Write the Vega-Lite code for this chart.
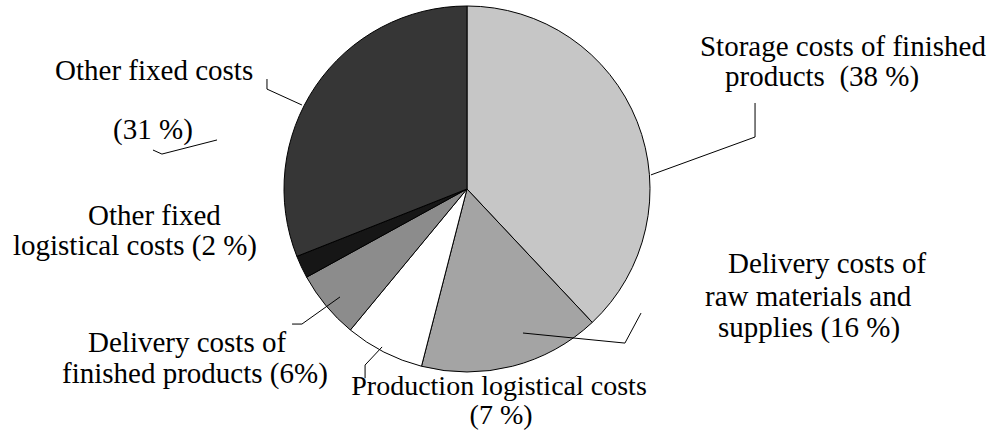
{
  "$schema": "https://vega.github.io/schema/vega-lite/v6.json",
  "width": 994,
  "height": 432,
  "autosize": "none",
  "padding": 0,
  "background": "white",
  "config": {"view": {"stroke": null}},
  "datasets": {
    "slices": [
      {"category": "Storage costs of finished products", "value": 38, "ord": 1},
      {"category": "Delivery costs of raw materials and supplies", "value": 16, "ord": 2},
      {"category": "Production logistical costs", "value": 7, "ord": 3},
      {"category": "Delivery costs of finished products", "value": 6, "ord": 4},
      {"category": "Other fixed logistical costs", "value": 2, "ord": 5},
      {"category": "Other fixed costs", "value": 31, "ord": 6}
    ],
    "labels": [
      {"text": "Storage costs of finished", "x": 127.3, "y": 72.7, "anchor": "left"},
      {"text": "products\u00a0 (38 %)", "x": 141.0, "y": 56.3, "anchor": "left"},
      {"text": "Delivery costs of", "x": 142.6, "y": -45.9, "anchor": "left"},
      {"text": "raw materials and", "x": 130.1, "y": -63.9, "anchor": "left"},
      {"text": "supplies (16 %)", "x": 137.2, "y": -80.9, "anchor": "left"},
      {"text": "Production logistical costs", "x": 17.5, "y": -112.6, "anchor": "center"},
      {"text": "(7 %)", "x": 18.6, "y": -128.4, "anchor": "center"},
      {"text": "Delivery costs of", "x": -207.1, "y": -89.1, "anchor": "left"},
      {"text": "finished products (6%)", "x": -221.3, "y": -106.0, "anchor": "left"},
      {"text": "Other fixed", "x": -207.1, "y": -19.7, "anchor": "left"},
      {"text": "logistical costs (2 %)", "x": -248.1, "y": -36.1, "anchor": "left"},
      {"text": "Other fixed costs", "x": -225.1, "y": 59.6, "anchor": "left"},
      {"text": "(31 %)", "x": -193.4, "y": 27.3, "anchor": "left"}
    ],
    "leaders": [
      {"id": "A", "i": 1, "x": 157.4, "y": 47.0},
      {"id": "A", "i": 2, "x": 157.4, "y": 28.4},
      {"id": "A", "i": 3, "x": 100.5, "y": 7.7},
      {"id": "B", "i": 1, "x": 30.6, "y": -78.7},
      {"id": "B", "i": 2, "x": 86.3, "y": -84.2},
      {"id": "B", "i": 3, "x": 95.1, "y": -67.8},
      {"id": "C", "i": 1, "x": -46.4, "y": -86.3},
      {"id": "C", "i": 2, "x": -55.7, "y": -96.2},
      {"id": "C", "i": 3, "x": -55.7, "y": -103.4},
      {"id": "D", "i": 1, "x": -95.6, "y": -73.8},
      {"id": "D", "i": 2, "x": -90.2, "y": -73.8},
      {"id": "D", "i": 3, "x": -69.4, "y": -59.0},
      {"id": "E", "i": 1, "x": -109.3, "y": 60.1},
      {"id": "E", "i": 2, "x": -109.3, "y": 54.6},
      {"id": "E", "i": 3, "x": -90.2, "y": 45.9},
      {"id": "F", "i": 1, "x": -171.6, "y": 21.3},
      {"id": "F", "i": 2, "x": -166.7, "y": 19.1},
      {"id": "F", "i": 3, "x": -136.6, "y": 26.8}
    ]
  },
  "layer": [
    {
      "data": {"name": "slices"},
      "mark": {"type": "arc", "outerRadius": 183, "stroke": "black", "strokeWidth": 1},
      "encoding": {
        "x": {"datum": 0, "type": "quantitative", "scale": {"domain": [-255.19, 287.98], "nice": false, "zero": false}, "axis": null},
        "y": {"datum": 0, "type": "quantitative", "scale": {"domain": [-132.79, 103.28], "nice": false, "zero": false}, "axis": null},
        "theta": {"field": "value", "type": "quantitative", "stack": true},
        "order": {"field": "ord", "type": "quantitative"},
        "color": {
          "field": "category",
          "type": "nominal",
          "legend": null,
          "scale": {
            "domain": ["Storage costs of finished products", "Delivery costs of raw materials and supplies", "Production logistical costs", "Delivery costs of finished products", "Other fixed logistical costs", "Other fixed costs"],
            "range": ["#c6c6c6", "#a4a4a4", "#ffffff", "#8c8c8c", "#161616", "#363636"]
          }
        }
      }
    },
    {
      "data": {"name": "leaders"},
      "mark": {"type": "line", "color": "black", "strokeWidth": 1},
      "encoding": {
        "x": {"field": "x", "type": "quantitative"},
        "y": {"field": "y", "type": "quantitative"},
        "detail": {"field": "id"},
        "order": {"field": "i", "type": "quantitative"}
      }
    },
    {
      "data": {"name": "labels"},
      "transform": [{"filter": "datum.anchor === 'left'"}],
      "mark": {"type": "text", "font": "Liberation Serif", "fontSize": 29, "align": "left", "baseline": "alphabetic", "color": "black"},
      "encoding": {
        "x": {"field": "x", "type": "quantitative"},
        "y": {"field": "y", "type": "quantitative"},
        "text": {"field": "text"}
      }
    },
    {
      "data": {"name": "labels"},
      "transform": [{"filter": "datum.anchor === 'center'"}],
      "mark": {"type": "text", "font": "Liberation Serif", "fontSize": 28, "align": "center", "baseline": "alphabetic", "color": "black"},
      "encoding": {
        "x": {"field": "x", "type": "quantitative"},
        "y": {"field": "y", "type": "quantitative"},
        "text": {"field": "text"}
      }
    }
  ]
}
